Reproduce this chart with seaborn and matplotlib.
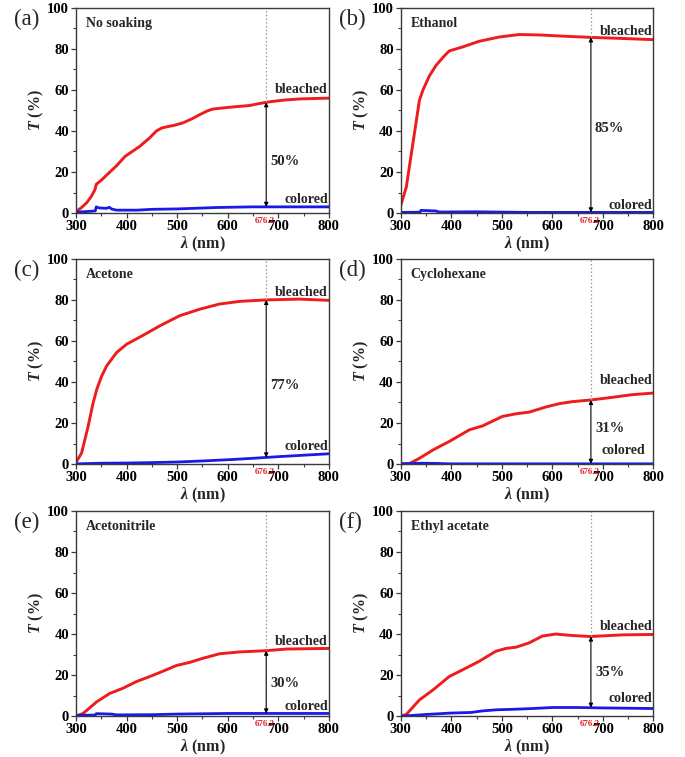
import numpy as np
import pandas as pd
import matplotlib
matplotlib.use("Agg")
import matplotlib.pyplot as plt
import seaborn as sns

# ---------------- data ----------------
panel_letters = ["(a)", "(b)", "(c)", "(d)", "(e)", "(f)"]
solvents = ["No soaking", "Ethanol", "Acetone", "Cyclohexane", "Acetonitrile", "Ethyl acetate"]
delta_labels = ["50%", "85%", "77%", "31%", "30%", "35%"]
marker_wl = 676.2

a_wl_b = [300, 310, 321, 330, 337.5, 340, 350, 367, 380, 397, 426, 445, 459, 470, 479, 495, 512, 530, 545, 560, 571, 590, 610, 643, 676, 709, 742, 770, 800]
a_T_b = [0.8, 2.5, 5, 8, 11.4, 14, 16, 20, 23, 27.6, 32.5, 36.5, 40, 41.5, 42, 42.8, 44, 46, 48, 49.8, 50.7, 51.2, 51.7, 52.4, 54, 55, 55.6, 55.8, 56]
a_wl_c = [300, 320, 338, 340, 345, 360, 366, 370, 380, 420, 450, 500, 580, 650, 800]
a_T_c = [0.5, 0.7, 1.0, 3.0, 2.5, 2.3, 2.8, 2.0, 1.4, 1.4, 1.8, 2.0, 2.7, 3.0, 3.0]

b_wl_b = [300, 311, 324, 337, 344, 357, 370, 384, 396, 423, 455, 495, 534, 574, 639, 679, 738, 800]
b_T_b = [3.6, 12.6, 33.8, 55, 60, 67, 72, 76, 79, 81, 83.7, 85.8, 87, 86.8, 86, 85.6, 85.1, 84.5]
b_wl_c = [300, 338, 340, 370, 375, 450, 550, 800]
b_T_c = [0.3, 0.4, 1.3, 1.0, 0.5, 0.6, 0.3, 0.3]

c_wl_b = [300, 311, 324, 333, 341, 350, 360.5, 380, 400, 433, 466, 505, 545, 584, 624, 676, 742, 800]
c_T_b = [0.8, 5.4, 18.4, 29, 36.4, 42.5, 47.8, 54.3, 58.4, 62.8, 67.4, 72.3, 75.5, 78, 79.3, 80, 80.4, 79.8]
c_wl_c = [300, 350, 400, 450, 500, 550, 600, 650, 700, 750, 800]
c_T_c = [0.1, 0.4, 0.5, 0.7, 1.0, 1.5, 2.1, 2.8, 3.6, 4.3, 5.0]

d_wl_b = [300, 318, 337, 364, 396, 436, 462, 501, 528, 554, 587, 613, 639, 675, 718, 757, 800]
d_T_b = [0.0, 0.3, 2.8, 6.9, 11, 16.7, 18.6, 23.2, 24.5, 25.3, 27.8, 29.4, 30.4, 31.2, 32.5, 33.8, 34.6]
d_wl_c = [300, 340, 370, 400, 800]
d_T_c = [0.1, 0.4, 0.3, 0.1, 0.1]

e_wl_b = [300, 314, 341, 367, 393, 420, 446, 466, 499, 525, 551, 584, 624, 676, 716, 800]
e_T_b = [0.0, 1.3, 7, 11.1, 13.6, 16.9, 19.3, 21.3, 24.7, 26.2, 28.2, 30.4, 31.3, 31.9, 32.7, 33]
e_wl_c = [300, 338, 340, 370, 380, 450, 500, 600, 800]
e_T_c = [0.4, 0.5, 1.2, 1.0, 0.6, 0.7, 1.0, 1.3, 1.3]

f_wl_b = [300, 311, 337, 364, 396, 429, 455, 488, 508, 528, 554, 580, 606, 639, 675, 738, 800]
f_T_b = [0.0, 0.8, 7.9, 12.8, 19.3, 23.4, 26.7, 31.6, 33, 33.6, 35.7, 39, 40, 39.3, 38.8, 39.6, 39.8]
f_wl_c = [300, 320, 350, 400, 440, 460, 490, 520, 560, 600, 650, 700, 800]
f_T_c = [0.0, 0.3, 0.8, 1.5, 1.8, 2.5, 3.1, 3.3, 3.7, 4.2, 4.2, 4.0, 3.7]

bleached_label_y = [60, 88.5, 83.5, 40.5, 36.5, 43.5]
colored_label_y = [6.5, 3.5, 8.5, 6.5, 4.5, 8.5]
delta_label_y = [25, 41, 38.5, 17.5, 16, 21.5]
colored_label_x = [800, 800, 800, 785, 800, 800]

panels = [
    (a_wl_b, a_T_b, a_wl_c, a_T_c),
    (b_wl_b, b_T_b, b_wl_c, b_T_c),
    (c_wl_b, c_T_b, c_wl_c, c_T_c),
    (d_wl_b, d_T_b, d_wl_c, d_T_c),
    (e_wl_b, e_T_b, e_wl_c, e_T_c),
    (f_wl_b, f_T_b, f_wl_c, f_T_c),
]

# ---------------- style ----------------
sns.set_style("ticks")
plt.rcParams["font.family"] = ["Liberation Serif", "DejaVu Serif"]
plt.rcParams["font.weight"] = "bold"
plt.rcParams["mathtext.fontset"] = "custom"
plt.rcParams["mathtext.rm"] = "Liberation Serif:bold"
plt.rcParams["mathtext.it"] = "Liberation Serif:italic:bold"
plt.rcParams["mathtext.bf"] = "Liberation Serif:bold"
plt.rcParams["mathtext.bfit"] = "Liberation Serif:italic:bold"

fig = plt.figure(figsize=(6.85, 7.57), dpi=100)
lefts = [0.111, 0.585]
bottoms = [0.7186, 0.387, 0.054]
w, h = 0.369, 0.271

red = "#ee1c1c"
blue = "#1a1ae6"
spine_col = "#3a3a3a"

for i, (wl_b, T_b, wl_c, T_c) in enumerate(panels):
    r, c = divmod(i, 2)
    ax = fig.add_axes([lefts[c], bottoms[r], w, h])
    dfb = pd.DataFrame({"wl": wl_b, "T": T_b})
    dfc = pd.DataFrame({"wl": wl_c, "T": T_c})
    sns.lineplot(data=dfb, x="wl", y="T", ax=ax, color=red, lw=2.1, sort=False)
    sns.lineplot(data=dfc, x="wl", y="T", ax=ax, color=blue, lw=2.0, sort=False)

    ax.set_xlim(300, 800)
    ax.set_ylim(0, 100)
    ax.set_xticks([300, 400, 500, 600, 700, 800])
    ax.set_yticks([0, 20, 40, 60, 80, 100])
    ax.set_xticks(np.arange(350, 800, 100), minor=True)
    ax.set_yticks(np.arange(10, 100, 20), minor=True)
    ax.tick_params(axis="both", which="major", direction="out", length=3.5, width=0.9,
                   labelsize=10.5, colors=spine_col, labelcolor="black", pad=1.5)
    ax.tick_params(axis="both", which="minor", direction="out", length=2, width=0.8, colors=spine_col)
    for lab in ax.get_xticklabels() + ax.get_yticklabels():
        lab.set_fontweight("bold")
    for sp in ax.spines.values():
        sp.set_visible(True)
        sp.set_color(spine_col)
        sp.set_linewidth(1.0)

    ax.set_xlabel(r"$\mathbfit{\lambda}$ (nm)", fontsize=11.5, fontweight="bold", labelpad=1)
    ax.set_ylabel(r"$\mathbfit{T}$ (%)", fontsize=11.5, fontweight="bold", labelpad=1)

    yb = float(np.interp(marker_wl, wl_b, T_b))
    yc = float(np.interp(marker_wl, wl_c, T_c))
    ax.plot([marker_wl, marker_wl], [yb, 100], ls=(0, (1.2, 1.8)), color="#999999", lw=0.9)
    ax.annotate("", xy=(marker_wl, yb), xytext=(marker_wl, yc),
                arrowprops=dict(arrowstyle="<|-|>", color="black", lw=0.8,
                                mutation_scale=6, shrinkA=0, shrinkB=0))
    ax.text(marker_wl + 8, delta_label_y[i], delta_labels[i], fontsize=10.5,
            fontweight="bold", ha="left", va="center")
    ax.text(marker_wl - 3, -2.0, "676.2", color="#e8202a", fontsize=6.5, fontweight="bold",
            ha="center", va="top")
    ax.text(798, bleached_label_y[i], "bleached", fontsize=10, fontweight="bold",
            ha="right", va="center")
    ax.text(colored_label_x[i] - 2, colored_label_y[i], "colored", fontsize=10,
            fontweight="bold", ha="right", va="center")
    ax.text(0.04, 0.955, solvents[i], transform=ax.transAxes, fontsize=10,
            fontweight="bold", ha="left", va="top")
    ax.text(-0.245, 0.995, panel_letters[i], transform=ax.transAxes, fontsize=16.5,
            fontweight="normal", ha="left", va="top")

fig.savefig("out.png", dpi=100)
